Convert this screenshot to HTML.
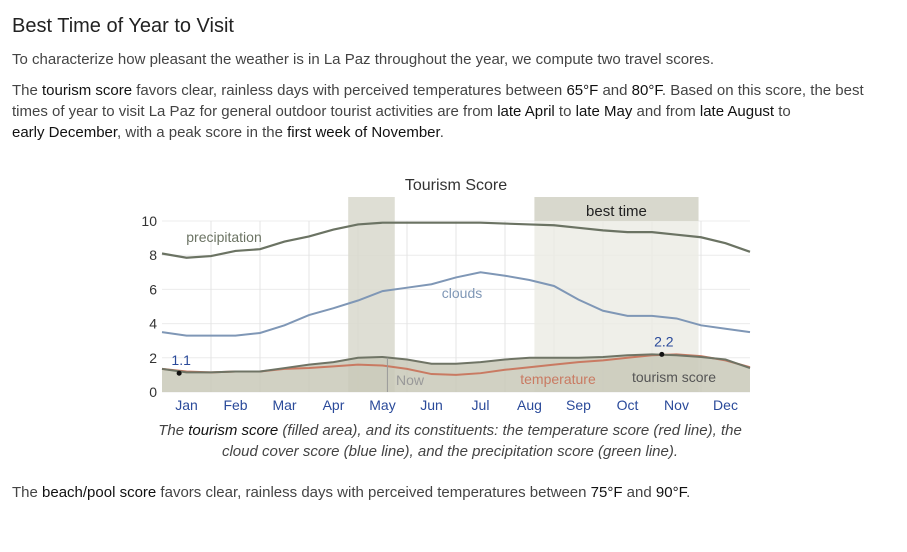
<!DOCTYPE html>
<html><head><meta charset="utf-8">
<style>
body{margin:0;width:907px;height:552px;background:#fff;font-family:"Liberation Sans",sans-serif;color:#333;overflow:hidden;position:relative}
h2{position:absolute;left:12px;top:15px;margin:0;font-weight:normal;font-size:20px;color:#222}
p{position:absolute;left:12px;margin:0;font-size:15px;line-height:21px;color:#444;white-space:nowrap}
b{font-weight:normal;color:#111}
#cap{position:absolute;left:100px;width:700px;top:420px;text-align:center;font-style:italic;font-size:15px;line-height:21px;color:#444;white-space:nowrap}
svg{position:absolute;left:0;top:0}
</style></head><body>
<h2>Best Time of Year to Visit</h2>
<p style="top:49px">To characterize how pleasant the weather is in La Paz throughout the year, we compute two travel scores.</p>
<p style="top:80px">The <b>tourism score</b> favors clear, rainless days with perceived temperatures between <b>65°F</b> and <b>80°F</b>. Based on this score, the best<br>times of year to visit La Paz for general outdoor tourist activities are from <b>late April</b> to <b>late May</b> and from <b>late August</b> to<br><b>early December</b>, with a peak score in the <b>first week of November</b>.</p>
<svg id="chart" width="907" height="552"></svg>
<div id="cap">The <b>tourism score</b> (filled area), and its constituents: the temperature score (red line), the<br>cloud cover score (blue line), and the precipitation score (green line).</div>
<p style="top:482px">The <b>beach/pool score</b> favors clear, rainless days with perceived temperatures between <b>75°F</b> and <b>90°F</b>.</p>
<script>
const months=["Jan","Feb","Mar","Apr","May","Jun","Jul","Aug","Sep","Oct","Nov","Dec"];
const yTicks=[0,2,4,6,8,10];
const precipitation=[8.1,7.85,7.95,8.25,8.35,8.8,9.1,9.5,9.8,9.9,9.9,9.9,9.9,9.9,9.85,9.8,9.75,9.6,9.45,9.35,9.35,9.2,9.05,8.7,8.2];
const clouds=[3.5,3.3,3.3,3.3,3.45,3.9,4.5,4.9,5.35,5.9,6.1,6.3,6.7,7.0,6.8,6.55,6.2,5.4,4.75,4.45,4.45,4.3,3.9,3.7,3.5];
const temperature=[1.35,1.2,1.15,1.2,1.2,1.35,1.4,1.5,1.6,1.55,1.35,1.05,1.0,1.1,1.3,1.45,1.6,1.75,1.85,2.0,2.15,2.2,2.1,1.85,1.45];
const tourism=[1.35,1.15,1.15,1.2,1.2,1.4,1.6,1.75,2.0,2.05,1.9,1.65,1.65,1.75,1.9,2.0,2.0,2.0,2.05,2.15,2.2,2.15,2.05,1.9,1.4];
const nowBand=[3.8,4.75];
const bestBand=[7.6,10.95];
const minLabel=[0.35,1.1];
const maxLabel=[10.2,2.2];
const X0=162,X1=750,Y0=392,Y10=221;
const xm=m=>X0+m/12*(X1-X0);
const xi=i=>X0+i/24*(X1-X0);
const y=v=>Y0+(Y10-Y0)*v/10;
const svg=document.getElementById('chart');
const NS="http://www.w3.org/2000/svg";
function mk(t,a,txt){const e=document.createElementNS(NS,t);for(const k in a)e.setAttribute(k,a[k]);if(txt!=null)e.textContent=txt;svg.appendChild(e);return e;}
let e;
e=mk('text',{x:456,y:190,'text-anchor':'middle','font-size':16,fill:'#333'},'Tourism Score');


yTicks.forEach(v=>{e=mk('line',{x1:X0,x2:X1,y1:y(v),y2:y(v),stroke:'#ececec'});


e=mk('text',{x:157,y:y(v)+5,'text-anchor':'end','font-size':14,fill:'#333'},String(v));

});
for(let m=1;m<12;m++){e=mk('line',{x1:xm(m),x2:xm(m),y1:y(10),y2:Y0,stroke:'#e4e4e4'});

}
e=mk('rect',{x:xm(nowBand[0]),y:197,width:xm(nowBand[1])-xm(nowBand[0]),height:Y0-197,fill:'#d8d8cd',opacity:0.85});


e=mk('rect',{x:xm(bestBand[0]),y:y(10),width:xm(bestBand[1])-xm(bestBand[0]),height:Y0-y(10),fill:'#ebebe4',opacity:0.8});


e=mk('rect',{x:xm(bestBand[0]),y:197,width:xm(bestBand[1])-xm(bestBand[0]),height:y(10)-197,fill:'#d8d8cd'});


e=mk('text',{x:(xm(bestBand[0])+xm(bestBand[1]))/2,y:216,'text-anchor':'middle','font-size':15,fill:'#222'},'best time');


let pts=tourism.map((v,i)=>xi(i)+','+y(v)).join(' ');
e=mk('polygon',{points:X0+','+Y0+' '+pts+' '+X1+','+Y0,fill:'#c9c9b8',opacity:0.85});


function line(arr,col,name,w){const e=mk('polyline',{points:arr.map((v,i)=>xi(i)+','+y(v)).join(' '),fill:'none',stroke:col,'stroke-width':w});

}
line(temperature,'#c97a62','temperature-line',2);
line(tourism,'#6f7465','tourism-line',2);
line(clouds,'#7f97b6','clouds-line',2);
line(precipitation,'#6b7363','precipitation-line',2.2);
e=mk('line',{x1:xm(4.6),x2:xm(4.6),y1:y(2),y2:Y0,stroke:'#999','stroke-width':1});


function lbl(x,yy,t,c,n){const e=mk('text',{x:x,y:yy,'font-size':14,fill:c,'text-anchor':'middle'},t);

}
lbl(224,242,'precipitation','#6b7363','precipitation-label');
lbl(462,298,'clouds','#7f97b6','clouds-label');
lbl(558,384,'temperature','#c97a62','temperature-label');
lbl(674,382,'tourism score','#555','tourism-label');
lbl(410,385,'Now','#999','now-label');
[minLabel,maxLabel].forEach((p,k)=>{e=mk('circle',{cx:xm(p[0]),cy:y(p[1]),r:2.5,fill:'#111'});


lbl(xm(p[0])+2,y(p[1])-8,p[1].toFixed(1),'#2a4a9a',k?'max-label':'min-label');});
months.forEach((m,i)=>{e=mk('text',{x:xm(i+0.5),y:410,'text-anchor':'middle','font-size':14,fill:'#2a4a9a'},m);

});
</script>
</body></html>
